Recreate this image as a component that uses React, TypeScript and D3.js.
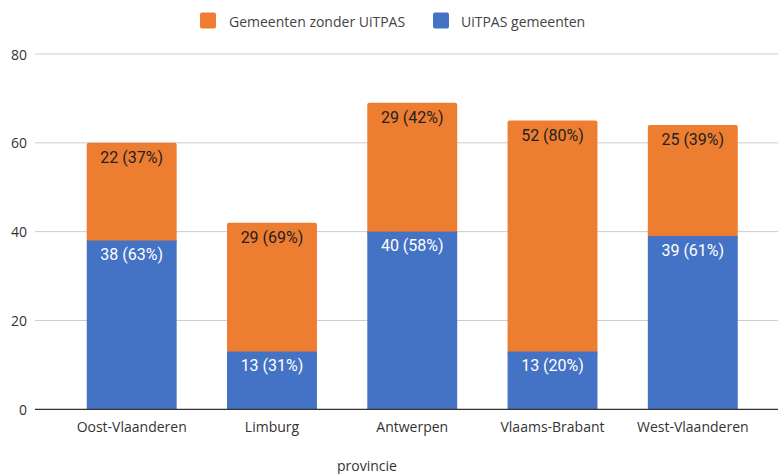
import React from "react";
import * as d3 from "d3";

const categories = ["Oost-Vlaanderen", "Limburg", "Antwerpen", "Vlaams-Brabant", "West-Vlaanderen"];
const uitpasValues = [38, 13, 40, 13, 39];
const zonderValues = [22, 29, 29, 52, 25];
const yTicks = [0, 20, 40, 60, 80];
const seriesNames = ["Gemeenten zonder UiTPAS", "UiTPAS gemeenten"];
const axisTitle = "provincie";

const W = 778;
const H = 474;
const BLUE = "#4472c4";
const ORANGE = "#ed7d31";
const FONT = "'Open Sans', sans-serif";
const LABEL_FONT = "Roboto, sans-serif";

export default function App() {
  const x = d3.scaleBand<string>().domain(categories).range([61.5, 763]).paddingInner(0.359).paddingOuter(0.18);
  const y = d3.scaleLinear().domain([0, 80]).range([409.3, 54]);
  const pct = (v: number, t: number) => Math.round((v / t) * 100);

  return (
    <svg width={W} height={H} style={{ position: "absolute", left: 0, top: 0, background: "#fff" }}>
      {/* legend */}
      <rect x={200} y={12.5} width={16} height={16} rx={2} fill={ORANGE} />
      <text x={229} y={21} dominantBaseline="central" fontFamily={FONT} fontSize={14} fill="#444">{seriesNames[0]}</text>
      <rect x={433} y={12.5} width={16} height={16} rx={2} fill={BLUE} />
      <text x={461} y={21} dominantBaseline="central" fontFamily={FONT} fontSize={14} fill="#444">{seriesNames[1]}</text>

      {/* grid */}
      {yTicks.map((t) => (
        <g key={t}>
          {t !== 0 && <line x1={35} x2={778} y1={y(t)} y2={y(t)} stroke="#cccccc" strokeWidth={1} />}
          <text x={27} y={y(t)} textAnchor="end" dominantBaseline="central" fontFamily={FONT} fontSize={14} fill="#333">{t}</text>
        </g>
      ))}

      {/* bars */}
      {categories.map((c, i) => {
        const b = uitpasValues[i];
        const o = zonderValues[i];
        const tot = b + o;
        const x0 = x(c)!;
        const bw = x.bandwidth();
        const cx = x0 + bw / 2;
        return (
          <g key={c}>
            <rect x={x0} y={y(tot)} width={bw} height={y(b) - y(tot) + 3} rx={2} fill={ORANGE} />
            <rect x={x0} y={y(b)} width={bw} height={y(0) - y(b)} fill={BLUE} />
            <text x={cx} y={y(tot) + 14.5} textAnchor="middle" dominantBaseline="central" fontFamily={LABEL_FONT} fontSize={16} fill="#222">{`${o} (${pct(o, tot)}%)`}</text>
            <text x={cx} y={y(b) + 14} textAnchor="middle" dominantBaseline="central" fontFamily={LABEL_FONT} fontSize={16} fill="#ffffff">{`${b} (${pct(b, tot)}%)`}</text>
            <text x={cx} y={426.5} textAnchor="middle" dominantBaseline="central" fontFamily={FONT} fontSize={14} fill="#333">{c}</text>
          </g>
        );
      })}

      <line x1={35} x2={778} y1={y(0)} y2={y(0)} stroke="#333" strokeWidth={1.3} />

      <text x={367} y={465} textAnchor="middle" dominantBaseline="central" fontFamily={FONT} fontSize={14} fill="#333">{axisTitle}</text>
    </svg>
  );
}
